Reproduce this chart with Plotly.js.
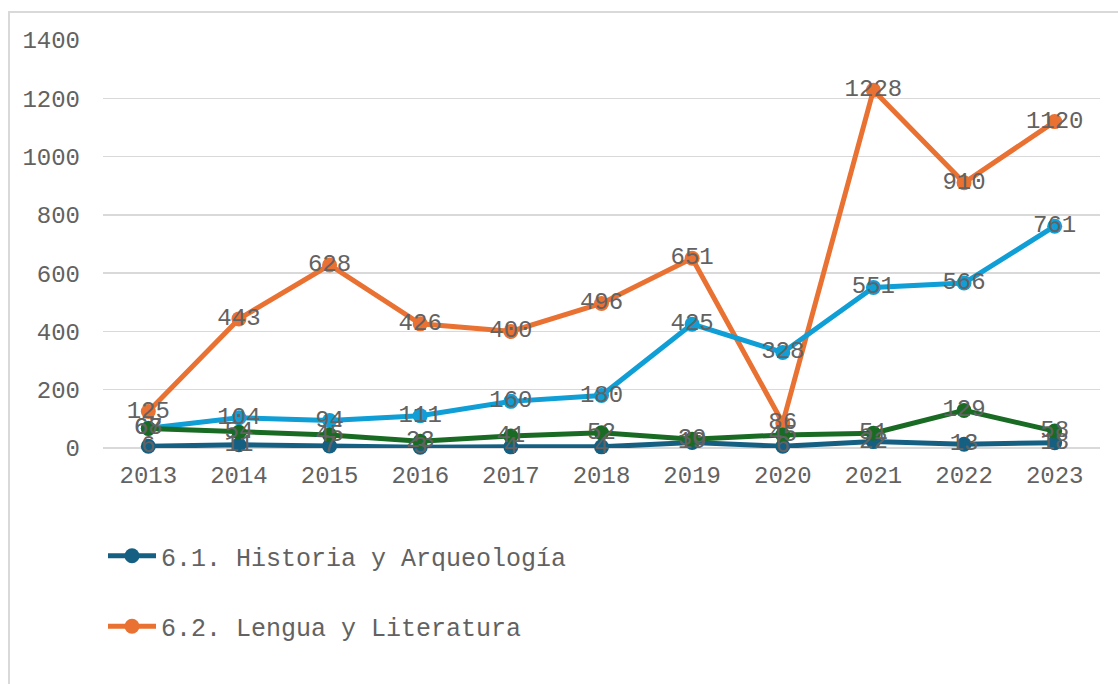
<!DOCTYPE html>
<html>
<head>
<meta charset="utf-8">
<script src="https://cdn.plot.ly/plotly-3.0.1.min.js"></script>
<style>
html,body{margin:0;padding:0;background:#fff;width:1118px;height:684px;overflow:hidden;}
#frame{position:absolute;left:8px;top:11px;width:1200px;height:800px;border-left:2px solid #d9d9d9;border-top:2px solid #d9d9d9;box-sizing:border-box;}
#chart{position:absolute;left:0;top:0;width:1118px;height:684px;}
</style>
</head>
<body>
<div id="frame"></div>
<div id="chart"></div>
<script>
const years = ['2013','2014','2015','2016','2017','2018','2019','2020','2021','2022','2023'];
const historiaArqueologia = [6, 11, 7, 3, 4, 4, 19, 6, 22, 13, 18];
const lenguaLiteratura = [125, 443, 628, 426, 400, 496, 651, 86, 1228, 910, 1120];
const filosofia = [68, 104, 94, 111, 160, 180, 425, 328, 551, 566, 761];
const arte = [67, 54, 45, 23, 41, 52, 30, 45, 51, 129, 58];

const seriesNames = ['6.1. Historia y Arqueología', '6.2. Lengua y Literatura', '6.3. Filosofía, Ética y Religión', '6.4. Arte'];
const seriesValues = [historiaArqueologia, lenguaLiteratura, filosofia, arte];
const seriesColors = ['#156082', '#E97132', '#0F9ED5', '#196B24'];
const inLegend = [true, true, false, false];

const FONT = '"Liberation Mono", "Courier New", monospace';
const TXT = '#626262';

const traces = [];
seriesValues.forEach((vals, i) => {
  traces.push({
    type: 'scatter', mode: 'lines+markers',
    x: years, y: vals, name: seriesNames[i],
    legendgroup: 'g' + i, showlegend: inLegend[i],
    line: {color: seriesColors[i], width: 5},
    marker: {color: seriesColors[i], size: 15},
    cliponaxis: false, hoverinfo: 'x+y+name'
  });
});
seriesValues.forEach((vals, i) => {
  traces.push({
    type: 'scatter', mode: 'text',
    x: years, y: vals, text: vals.map(String),
    textposition: 'middle center',
    textfont: {family: FONT, size: 24, color: TXT},
    showlegend: false, cliponaxis: false, hoverinfo: 'skip'
  });
});

const layout = {
  width: 1118, height: 684,
  margin: {l: 103, r: 18, t: 40, b: 236, autoexpand: false},
  paper_bgcolor: 'rgba(0,0,0,0)',
  plot_bgcolor: 'rgba(0,0,0,0)',
  font: {family: FONT, color: TXT, size: 24},
  xaxis: {
    type: 'category', range: [-0.5, 10.5],
    showgrid: false, zeroline: false, showline: false,
    ticks: '', ticklabelstandoff: 10, tickangle: 0, automargin: false,
    tickfont: {family: FONT, size: 24, color: TXT}
  },
  yaxis: {
    range: [0, 1400], dtick: 200, tick0: 0, automargin: false,
    showgrid: true, gridcolor: '#d9d9d9', gridwidth: 1.5,
    zeroline: true, zerolinecolor: '#d9d9d9', zerolinewidth: 1.5,
    showline: false, ticks: '', ticklabelstandoff: 22,
    tickfont: {family: FONT, size: 24, color: TXT}
  },
  showlegend: true,
  legend: {
    orientation: 'v',
    xref: 'container', yref: 'container',
    x: 103/1118, xanchor: 'left',
    y: 1 - 533/684, yanchor: 'top',
    font: {family: FONT, size: 25, color: TXT},
    itemwidth: 48, tracegroupgap: 35,
    bgcolor: 'rgba(0,0,0,0)'
  }
};

Plotly.newPlot('chart', traces, layout, {displayModeBar: false, staticPlot: true});
</script>
</body>
</html>
